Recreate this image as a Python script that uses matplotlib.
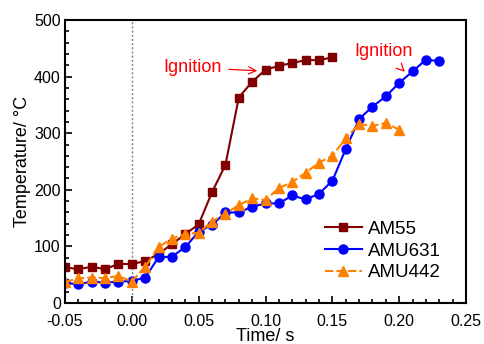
import matplotlib.pyplot as plt
import numpy as np
from matplotlib.ticker import MultipleLocator

plt.rcParams['font.family'] = ['Liberation Sans', 'DejaVu Sans']

# time axes (s)
t_am55 = np.round(np.arange(-0.05, 0.151, 0.01), 2)
t_amu631 = np.round(np.arange(-0.05, 0.231, 0.01), 2)
t_amu442 = np.round(np.arange(-0.05, 0.201, 0.01), 2)

# temperatures (C)
am55 = [63, 60, 64, 60, 69, 69, 74, 87, 104, 122, 139, 196, 244, 363, 391, 412,
        419, 424, 429, 429, 434]
amu631 = [36, 33, 38, 36, 38, 39, 45, 81, 82, 99, 126, 138, 160, 160, 170, 176,
          176, 190, 183, 193, 216, 272, 325, 347, 365, 389, 409, 430, 427]
amu442 = [37, 44, 45, 44, 48, 38, 64, 99, 114, 122, 124, 144, 158, 173, 185, 182,
          203, 214, 230, 248, 260, 291, 316, 313, 318, 306]

fig = plt.figure(figsize=(4.85, 3.44), dpi=100)
ax = fig.add_axes([0.134, 0.119, 0.827, 0.823])

ax.axvline(0, color='gray', ls=(0, (1.5, 1.5)), lw=1)

ax.plot(t_am55, am55, '-s', color='#800000', ms=6, lw=1.5, label='AM55')
ax.plot(t_amu631, amu631, '-o', color='#0000ff', ms=6.5, lw=1.5, label='AMU631')
ax.plot(t_amu442, amu442, color='#ff8000', marker='^', ms=7.5, lw=1.5,
        ls=(0, (4, 1.5)), label='AMU442')

ax.annotate('Ignition', xy=(0.0959, 410), xytext=(0.0455, 416),
            color='red', fontsize=13, va='center', ha='center',
            arrowprops=dict(arrowstyle='->', color='red', lw=0.9, shrinkA=3))
ax.annotate('Ignition', xy=(0.2057, 405), xytext=(0.1885, 445),
            color='red', fontsize=13, va='center', ha='center',
            arrowprops=dict(arrowstyle='->', color='red', lw=0.9,
                            shrinkA=8))

ax.set_xlim(-0.05, 0.25)
ax.set_ylim(0, 500)
ax.xaxis.set_major_locator(MultipleLocator(0.05))
ax.xaxis.set_minor_locator(MultipleLocator(0.01))
ax.yaxis.set_major_locator(MultipleLocator(100))
ax.yaxis.set_minor_locator(MultipleLocator(20))
ax.xaxis.set_major_formatter(plt.FuncFormatter(lambda v, p: f'{v:.2f}'))
ax.tick_params(which='both', direction='in', top=False, right=False,
               labelsize=11.5, width=1.2)
ax.tick_params(which='major', length=5)
ax.tick_params(which='minor', length=3)
ax.tick_params(axis='x', pad=8)
ax.tick_params(axis='y', pad=3)
for s in ax.spines.values():
    s.set_linewidth(1.5)

ax.set_xlabel('Time/ s', fontsize=13, labelpad=-1)
ax.set_ylabel('Temperature/ °C', fontsize=13, labelpad=2)

ax.legend(loc='lower right', frameon=False, fontsize=13.5, handlelength=2.0,
          handletextpad=0.3, labelspacing=0.25, borderaxespad=0,
          bbox_to_anchor=(0.955, 0.05))

fig.savefig('out.png', dpi=100)
